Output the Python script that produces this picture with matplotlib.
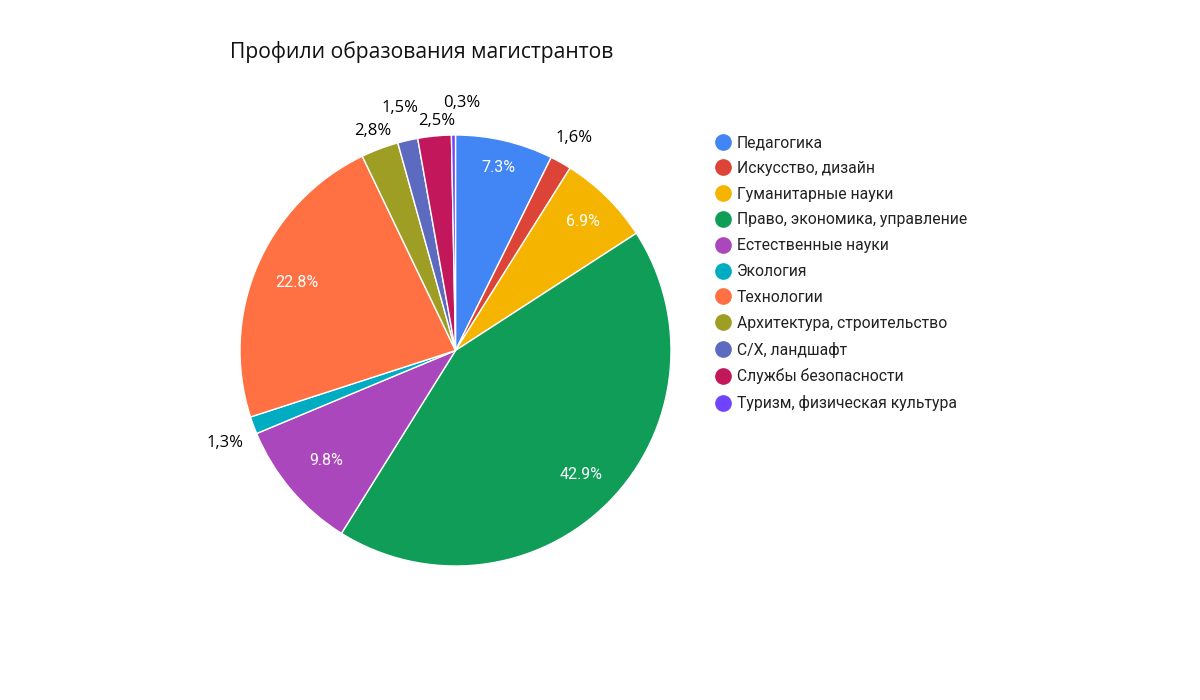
import matplotlib.pyplot as plt
import numpy as np
from matplotlib.lines import Line2D

categories = ['Педагогика', 'Искусство, дизайн', 'Гуманитарные науки',
              'Право, экономика, управление', 'Естественные науки', 'Экология',
              'Технологии', 'Архитектура, строительство', 'С/Х, ландшафт',
              'Службы безопасности', 'Туризм, физическая культура']
values = [7.3, 1.6, 6.9, 42.9, 9.8, 1.3, 22.8, 2.8, 1.5, 2.5, 0.3]
colors = ['#4285F4', '#DB4437', '#F4B400', '#0F9D58', '#AB47BC', '#00ACC1',
          '#FF7043', '#9E9D24', '#5C6BC0', '#C2185B', '#7044FF']

# label radius per slice (inside < 1, outside > 1)
label_r = [0.87, 1.13, 0.84, 0.82, 0.79, 1.15, 0.80, 1.09, 1.155, 1.07, 1.15]
label_dang = [0, 0, 0, 0, 0, 1.5, 0, 0, 0, -1, -2]

plt.rcParams['font.family'] = ['Open Sans', 'DejaVu Sans']

fig = plt.figure(figsize=(12, 7), dpi=100)
cx, cy, r = 455.5, 350.5, 215.5
ax = fig.add_axes([(cx - r) / 1200, (700 - cy - r) / 700, 2 * r / 1200, 2 * r / 700])

wedges, _ = ax.pie(values, colors=colors, startangle=90, counterclock=False,
                   radius=1, wedgeprops=dict(edgecolor='white', linewidth=1))
ax.set_xlim(-1, 1)
ax.set_ylim(-1, 1)
ax.set_aspect('equal')
ax.axis('off')

for w, v, lr, da in zip(wedges, values, label_r, label_dang):
    ang = np.deg2rad((w.theta1 + w.theta2) / 2 + da)
    x, y = lr * np.cos(ang), lr * np.sin(ang)
    if lr < 1:
        ax.text(x, y, f'{v:.1f}%', color='white', ha='center', va='center',
                fontsize=11.5, family=['Roboto', 'DejaVu Sans'])
    else:
        ax.text(x, y, f'{v:.1f}%'.replace('.', ','), color='black', ha='center',
                va='center', fontsize=12)

fig.text(230 / 1200, 1 - 52 / 700, 'Профили образования магистрантов',
         fontsize=15.2, ha='left', va='center', color='#111111')

handles = [Line2D([], [], marker='o', linestyle='none', markersize=11,
                  markerfacecolor=c, markeredgecolor=c) for c in colors]
leg = fig.legend(handles, categories, loc='upper left',
                 bbox_to_anchor=(714 / 1200, 1 - 135 / 700), frameon=False,
                 labelspacing=0.69, handletextpad=0.35,
                 handlelength=1.1, borderaxespad=0, borderpad=0,
                 prop={'family': ['Roboto', 'DejaVu Sans'], 'size': 11.3})
for t in leg.get_texts():
    t.set_color('#222222')

fig.savefig('out.png')
